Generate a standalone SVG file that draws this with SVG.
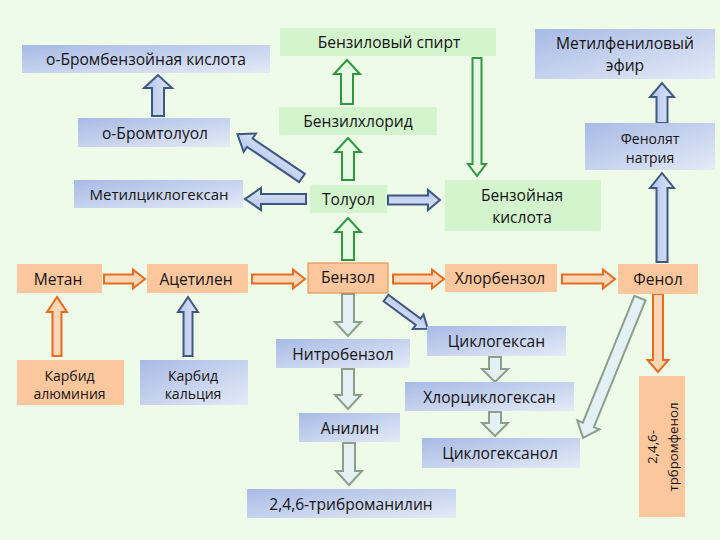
<svg xmlns="http://www.w3.org/2000/svg" width="720" height="540" viewBox="0 0 720 540">
<defs>
<linearGradient id="gBlue" x1="0" y1="0" x2="1" y2="1">
<stop offset="0" stop-color="#a8bae5"/><stop offset="1" stop-color="#e4ebf7"/>
</linearGradient>
<linearGradient id="gArrowBlue" x1="0" y1="0" x2="0" y2="1">
<stop offset="0" stop-color="#b3c4ec"/><stop offset="1" stop-color="#dce5f7"/>
</linearGradient>
<style>
text{font-family:"Open Sans","Noto Sans","DejaVu Sans",sans-serif;font-size:15.6px;fill:#141414;text-anchor:middle;dominant-baseline:central}
.sm{font-size:14px}
.xs{font-size:13.3px}
.md{font-size:15px}
.nb{fill:url(#gBlue)}
.ng{fill:#d3f4cc}
.no{fill:#fcc79d}
.ab{fill:url(#gArrowBlue);stroke:#3e5880;stroke-width:2;stroke-linejoin:miter}
.ag{fill:#e8fae4;stroke:#2e9a3e;stroke-width:2}
.ao{fill:#fbd7b8;stroke:#ea6a1e;stroke-width:2}
.ay{fill:#e3f0f4;stroke:#8c9e8c;stroke-width:2}
</style>
</defs>
<rect width="720" height="540" fill="#eefbe8"/>

<g id="connectors">
<!-- о-Бромтолуол -> о-Бромбензойная -->
<path class="ab" transform="translate(158,116) rotate(-90)" d="M0,-6H28V-14L41,0L28,14V6H0Z"/>
<!-- green column -->
<path class="ag" transform="translate(347,104) rotate(-90)" d="M0,-6H30V-13L44,0L30,13V6H0Z"/>
<path class="ag" transform="translate(348,180) rotate(-90)" d="M0,-6H28V-13L42,0L28,13V6H0Z"/>
<path class="ag" transform="translate(348,260) rotate(-90)" d="M0,-6H28V-13L42,0L28,13V6H0Z"/>
<!-- Бензиловый спирт -> Бензойная кислота -->
<path class="ag" transform="translate(477,58) rotate(90)" d="M0,-4.5H106V-9L118,0L106,9V4.5H0Z"/>
<!-- Толуол -> Метилциклогексан -->
<path class="ab" transform="translate(306,199) rotate(180)" d="M0,-5H45V-11L61,0L45,11V5H0Z"/>
<!-- Толуол -> о-Бромтолуол -->
<path class="ab" transform="translate(302,178) rotate(-145.9)" d="M0,-5H63V-11L78,0L63,11V5H0Z"/>
<!-- Толуол -> Бензойная кислота -->
<path class="ab" transform="translate(388,200)" d="M0,-4.5H40V-10L52,0L40,10V4.5H0Z"/>
<!-- orange row -->
<path class="ao" transform="translate(104,279)" d="M0,-4.5H29V-9.5L41,0L29,9.5V4.5H0Z"/>
<path class="ao" transform="translate(252,279)" d="M0,-4.5H41V-9.5L53,0L41,9.5V4.5H0Z"/>
<path class="ao" transform="translate(393,279)" d="M0,-4.5H39V-9.5L51,0L39,9.5V4.5H0Z"/>
<path class="ao" transform="translate(562,279)" d="M0,-4.5H41V-9.5L53,0L41,9.5V4.5H0Z"/>
<!-- Карбиды -->
<path class="ao" transform="translate(57,356) rotate(-90)" d="M0,-4.5H44V-10L59,0L44,10V4.5H0Z"/>
<path class="ab" transform="translate(188,356) rotate(-90)" d="M0,-4.5H44V-10L59,0L44,10V4.5H0Z"/>
<!-- Бензол -> Нитробензол -->
<path class="ay" transform="translate(348,294) rotate(90)" d="M0,-6H28V-13L42,0L28,13V6H0Z"/>
<!-- Бензол -> Циклогексан -->
<path class="ab" transform="translate(386,298) rotate(36.4)" d="M0,-4H40V-9L52,0L40,9V4H0Z"/>
<!-- Нитробензол -> Анилин -->
<path class="ay" transform="translate(348,369) rotate(90)" d="M0,-6H26V-13L40,0L26,13V6H0Z"/>
<!-- Анилин -> триброманилин -->
<path class="ay" transform="translate(349,443) rotate(90)" d="M0,-6H28V-13L42,0L28,13V6H0Z"/>
<!-- Циклогексан -> Хлорциклогексан -->
<path class="ay" transform="translate(495,357) rotate(90)" d="M0,-6H12V-13L25,0L12,13V6H0Z"/>
<!-- Хлорциклогексан -> Циклогексанол -->
<path class="ay" transform="translate(495,412) rotate(90)" d="M0,-6H11V-13L24,0L11,13V6H0Z"/>
<!-- Фенол -> Циклогексанол -->
<path class="ay" transform="translate(640,298) rotate(112.15)" d="M0,-6H137V-12L151,0L137,12V6H0Z"/>
<!-- Фенол -> трбромфенол -->
<path class="ao" transform="translate(658,294) rotate(90)" d="M0,-5H66V-10.5L78,0L66,10.5V5H0Z"/>
<!-- Фенол -> Фенолят натрия -->
<path class="ab" transform="translate(662,262) rotate(-90)" d="M0,-5.5H74V-12L89,0L74,12V5.5H0Z"/>
<!-- Фенолят натрия -> Метилфениловый эфир -->
<path class="ab" transform="translate(662,123) rotate(-90)" d="M0,-5.5H26V-12L40,0L26,12V5.5H0Z"/>
</g>

<g id="n-brombenzoic"><rect class="nb" x="22" y="45" width="248" height="28"/><text x="146" y="59">о-Бромбензойная кислота</text></g>
<g id="n-bromtoluol"><rect class="nb" x="78" y="118" width="152" height="29"/><text x="155" y="132.5">о-Бромтолуол</text></g>
<g id="n-benzylalc"><rect class="ng" x="280" y="28" width="216" height="28"/><text x="389" y="42">Бензиловый спирт</text></g>
<g id="n-benzylchl"><rect class="ng" x="279" y="107" width="158" height="28"/><text x="358" y="121">Бензилхлорид</text></g>
<g id="n-anisole"><rect class="nb" x="535" y="29" width="180" height="50"/><text x="625" y="43">Метилфениловый</text><text x="625" y="65">эфир</text></g>
<g id="n-phenolate"><rect class="nb" x="585" y="123" width="130" height="47"/><text class="sm" x="650" y="138">Фенолят</text><text class="sm" x="650" y="157">натрия</text></g>
<g id="n-methylcyclohexane"><rect class="nb" x="74" y="180" width="169" height="28"/><text class="md" x="159" y="194">Метилциклогексан</text></g>
<g id="n-toluol"><rect class="ng" x="310" y="185" width="77" height="28"/><text x="348.5" y="199">Толуол</text></g>
<g id="n-benzoic"><rect class="ng" x="445" y="180" width="156" height="51"/><text x="522" y="195">Бензойная</text><text x="522" y="217">кислота</text></g>
<g id="n-methane"><rect class="no" x="17" y="264" width="85" height="29"/><text x="58" y="278.5">Метан</text></g>
<g id="n-acetylene"><rect class="no" x="147" y="264" width="101" height="29"/><text x="196" y="278.5">Ацетилен</text></g>
<g id="n-benzol"><rect class="no" x="308" y="263" width="80" height="30" stroke="#e08a44" stroke-width="1"/><text x="348" y="277">Бензол</text></g>
<g id="n-chlorbenzol"><rect class="no" x="445" y="264" width="112" height="28"/><text x="500" y="278">Хлорбензол</text></g>
<g id="n-phenol"><rect class="no" x="618" y="264" width="80" height="30"/><text x="658" y="279">Фенол</text></g>
<g id="n-al-carbide"><rect class="no" x="17" y="360" width="107" height="45"/><text class="sm" x="69.5" y="375">Карбид</text><text class="sm" x="69.5" y="393">алюминия</text></g>
<g id="n-ca-carbide"><rect class="nb" x="140" y="360" width="108" height="45"/><text class="sm" x="193" y="375">Карбид</text><text class="sm" x="193" y="393">кальция</text></g>
<g id="n-nitrobenzol"><rect class="nb" x="276" y="339" width="134" height="29"/><text x="343" y="353.5">Нитробензол</text></g>
<g id="n-cyclohexane"><rect class="nb" x="427" y="326" width="139" height="30"/><text x="496.5" y="341">Циклогексан</text></g>
<g id="n-chlorcyclohexane"><rect class="nb" x="405" y="382" width="169" height="29"/><text x="489.5" y="396.5">Хлорциклогексан</text></g>
<g id="n-cyclohexanol"><rect class="nb" x="422" y="438" width="158" height="30"/><text x="500" y="453">Циклогексанол</text></g>
<g id="n-tribromphenol"><rect class="no" x="639" y="376" width="46" height="141"/><text class="xs" transform="translate(652,447) rotate(-90)" x="0" y="0">2,4,6-</text><text class="xs" transform="translate(673,447) rotate(-90)" x="0" y="0">трбромфенол</text></g>
<g id="n-anilin"><rect class="nb" x="299" y="413" width="101" height="29"/><text x="350" y="427.5">Анилин</text></g>
<g id="n-tribromanilin"><rect class="nb" x="247" y="489" width="209" height="29"/><text x="351" y="503.5">2,4,6-триброманилин</text></g>
</svg>
